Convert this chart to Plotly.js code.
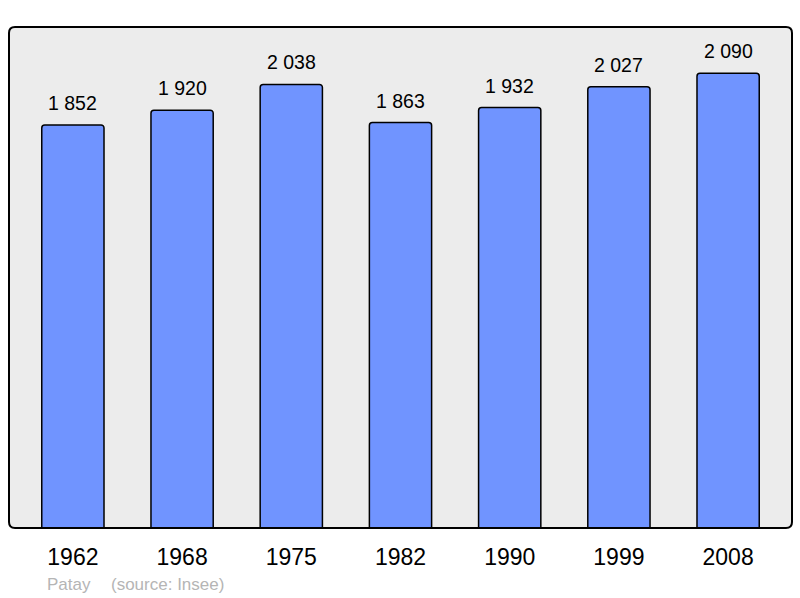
<!DOCTYPE html>
<html>
<head>
<meta charset="utf-8">
<script src="https://cdn.plot.ly/plotly-3.0.1.min.js"></script>
<style>html,body{margin:0;padding:0;background:#fff;}#chart{width:800px;height:598px;}</style>
</head>
<body>
<div id="chart"></div>
<script>
const years = ['1962', '1968', '1975', '1982', '1990', '1999', '2008'];
const population = [1852, 1920, 2038, 1863, 1932, 2027, 2090];
const commune = 'Patay';
const source = '(source: Insee)';

function fmt(v) {
  return String(v).replace(/\B(?=(\d{3})+(?!\d))/g, ' ');
}

const W = 783, H = 501, r = 6;
const rx = r / W, ry = r / H;
function roundedPath() {
  return `M ${rx} 0 L ${1 - rx} 0 Q 1 0 1 ${ry} L 1 ${1 - ry} Q 1 1 ${1 - rx} 1 L ${rx} 1 Q 0 1 0 ${1 - ry} L 0 ${ry} Q 0 0 ${rx} 0 Z`;
}

const FONT = 'Liberation Sans, Arial, sans-serif';

const trace = {
  type: 'bar',
  x: years,
  y: population,
  width: 0.57,
  marker: { color: '#7094ff', line: { color: '#000', width: 1.5 }, cornerradius: 3 },
  hoverinfo: 'none'
};

const annotations = population.map((v, i) => ({
  x: i, y: v, xref: 'x', yref: 'y',
  text: fmt(v), showarrow: false, yshift: 22,
  font: { family: FONT, size: 19.5, color: '#000' }
}));
annotations.push({
  xref: 'paper', yref: 'paper', x: 0.047, y: -0.113, xanchor: 'left', yanchor: 'middle',
  text: commune, showarrow: false, borderpad: 0,
  font: { family: FONT, size: 17, color: '#b5b5b5' }
});
annotations.push({
  xref: 'paper', yref: 'paper', x: 0.129, y: -0.113, xanchor: 'left', yanchor: 'middle',
  text: source, showarrow: false, borderpad: 0,
  font: { family: FONT, size: 17, color: '#b5b5b5' }
});

const layout = {
  width: 800, height: 598,
  margin: { l: 9, r: 8, t: 27, b: 70, pad: 0 },
  paper_bgcolor: '#fff',
  plot_bgcolor: 'rgba(0,0,0,0)',
  showlegend: false,
  xaxis: {
    type: 'category', range: [-0.585, 6.585], showgrid: false, zeroline: false,
    showline: false, ticks: 'outside', ticklen: 8, tickcolor: 'rgba(0,0,0,0)',
    tickfont: { family: FONT, size: 23, color: '#000' },
    fixedrange: true
  },
  yaxis: {
    range: [0, 2302], showgrid: false, zeroline: false, showline: false,
    showticklabels: false, ticks: '', fixedrange: true
  },
  shapes: [
    { type: 'path', xref: 'paper', yref: 'paper', path: roundedPath(), fillcolor: '#ececec', line: { width: 0 }, layer: 'below' },
    { type: 'path', xref: 'paper', yref: 'paper', path: roundedPath(), fillcolor: 'rgba(0,0,0,0)', line: { color: '#000', width: 2 }, layer: 'above' }
  ],
  annotations: annotations
};

Plotly.newPlot('chart', [trace], layout, { displayModeBar: false, staticPlot: true });
</script>
</body>
</html>
